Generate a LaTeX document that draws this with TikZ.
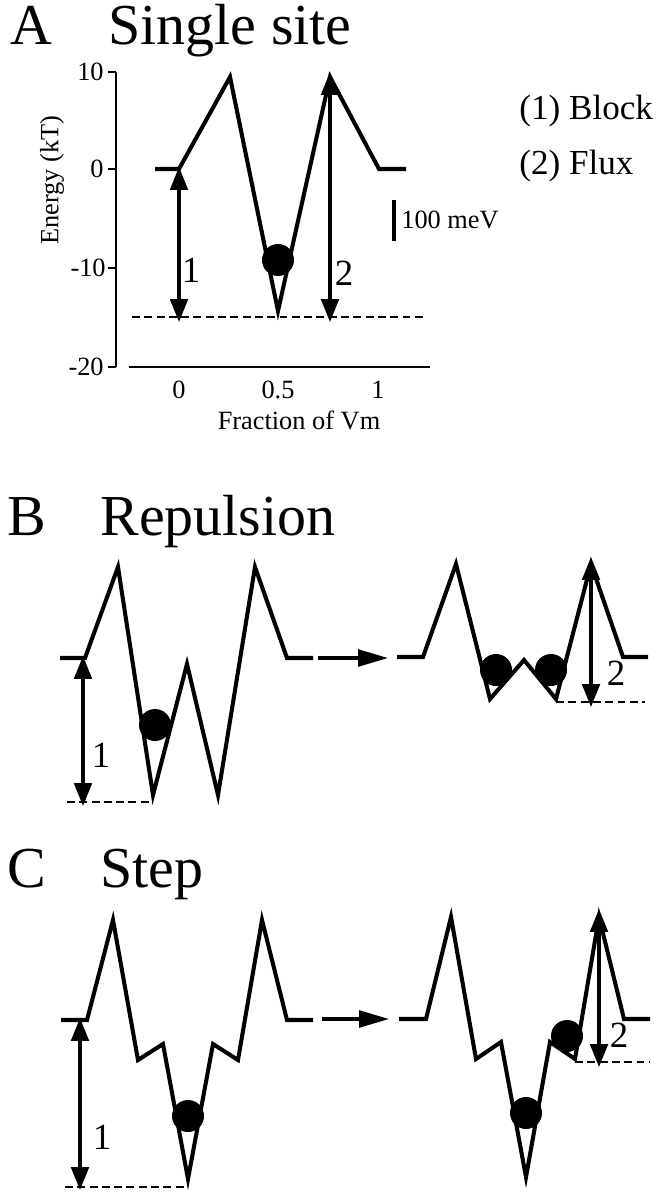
\documentclass[tikz,border=0pt]{standalone}
\usepackage{fontspec}
\setmainfont{Liberation Serif}
\usetikzlibrary{arrows.meta}

\tikzset{
  title/.style={font=\fontsize{33}{37}\selectfont, anchor=base west, inner sep=0pt},
  ticklbl/.style={font=\fontsize{15}{17}\selectfont, inner sep=0pt},
  axlbl/.style={font=\fontsize{15}{17}\selectfont, inner sep=0pt},
  numlbl/.style={font=\fontsize{21}{23}\selectfont, inner sep=0pt},
  legend/.style={font=\fontsize{20}{23}\selectfont, anchor=west, inner sep=0pt},
  profile/.style={line width=2.3pt},
  axis/.style={line width=1.1pt},
  level/.style={line width=0.9pt, dash pattern=on 4.5pt off 2.5pt},
  dbl/.style={line width=1.8pt, {Triangle[length=13pt,width=10pt]}-{Triangle[length=13pt,width=10pt]}},
  push/.style={line width=1.9pt, -{Triangle[length=17pt,width=9.5pt]}},
}

\begin{document}
\begin{tikzpicture}[x=0.02cm, y=-0.02cm]
        \useasboundingbox (0,0) rectangle (663,1199);

        % A single site
        \node[title] (tagA) at (10,45) {A};
        \node[title] (headA) at (108,45) {Single site};

        \draw[axis] (116,72) -- (116,367);
        \draw[axis] (129,367) -- (430,367);
        \foreach \y in {72,169,268,367}
          \draw[axis] (108,\y) -- (116,\y);
        \node[ticklbl, anchor=east] (yt10) at (104,72) {10};
        \node[ticklbl, anchor=east] (yt0) at (104,169) {0};
        \node[ticklbl, anchor=east] (ytm10) at (106,268) {-10};
        \node[ticklbl, anchor=east] (ytm20) at (104,367) {-20};
        \node[ticklbl] (xt0) at (179,390) {0};
        \node[ticklbl] (xt05) at (278,390) {0.5};
        \node[ticklbl] (xt1) at (378,390) {1};
        \node[axlbl, rotate=90] (ylab) at (52,180) {Energy (kT)};
        \node[axlbl] (xlab) at (299,420) {Fraction of Vm};

        \draw[level] (132,317) -- (425,317);
        \draw[profile] (155,169) -- (179,169) -- (230,77) -- (278,311)
          -- (330,77) -- (379,169) -- (406,169);
        \fill (278,260) circle (16);

        \coordinate (a1top) at (179,167);
        \coordinate (a1bot) at (179,322);
        \draw[dbl] (a1top) -- (a1bot);
        \node[numlbl] (nA1) at (191,270) {1};
        \coordinate (a2top) at (330,72);
        \coordinate (a2bot) at (330,322);
        \draw[dbl] (a2top) -- (a2bot);
        \node[numlbl] (nA2) at (344,273) {2};

        % scale bar
        \draw[line width=2.3pt] (394,200) -- (394,241);
        \node[axlbl, anchor=west] (bar) at (401,220) {100 meV};

        \node[legend] (blk) at (519,111) {(1) Block};
        \node[legend] (flx) at (519,166) {(2) Flux};

        % B repulsion
        \node[title] (tagB) at (7,535) {B};
        \node[title] (headB) at (100,535) {Repulsion};

        \draw[level] (67,802) -- (153,802);
        \draw[profile] (60,658) -- (85,658) -- (118,567) -- (153,795) -- (187,664)
          -- (218,795) -- (255,567) -- (287,658) -- (313,658);
        \fill (155,725) circle (16);
        \coordinate (b1top) at (83,656);
        \coordinate (b1bot) at (83,806);
        \draw[dbl] (b1top) -- (b1bot);
        \node[numlbl] (nB1) at (101,755) {1};

        \coordinate (bfrom) at (318,658);
        \coordinate (bto) at (388,658);
        \draw[push] (bfrom) -- (bto);

        \draw[level] (556,702) -- (645,702);
        \draw[profile] (397,657) -- (423,657) -- (456,564) -- (490,699) -- (524,660)
          -- (556,699) -- (591,564) -- (623,657) -- (648,657);
        \fill (496,670) circle (16);
        \fill (551,670) circle (16);
        \coordinate (b2top) at (591,557);
        \coordinate (b2bot) at (591,707);
        \draw[dbl] (b2top) -- (b2bot);
        \node[numlbl] (nB2) at (616,673) {2};

        % C step
        \node[title] (tagC) at (7,887) {C};
        \node[title] (headC) at (100,887) {Step};

        \draw[level] (65,1187) -- (188,1187);
        \draw[profile] (61,1020) -- (87,1020) -- (113,920) -- (138,1060) -- (163,1044)
          -- (188,1179) -- (213,1044) -- (238,1060) -- (262,920) -- (287,1020) -- (313,1020);
        \fill (188,1116) circle (16);
        \coordinate (c1top) at (80,1018);
        \coordinate (c1bot) at (80,1190);
        \draw[dbl] (c1top) -- (c1bot);
        \node[numlbl] (nC1) at (102,1137) {1};

        \coordinate (cfrom) at (322,1019);
        \coordinate (cto) at (389,1019);
        \draw[push] (cfrom) -- (cto);

        \draw[level] (575,1062) -- (650,1062);
        \draw[profile] (399,1019) -- (426,1019) -- (451,917) -- (476,1059) -- (501,1042)
          -- (526,1177) -- (550,1042) -- (575,1059) -- (599,917) -- (624,1019) -- (650,1019);
        \fill (526,1113) circle (16);
        \fill (567,1036) circle (16);
        \coordinate (c2top) at (599,909);
        \coordinate (c2bot) at (599,1067);
        \draw[dbl] (c2top) -- (c2bot);
        \node[numlbl] (nC2) at (619,1035) {2};
      \end{tikzpicture}
\end{document}
